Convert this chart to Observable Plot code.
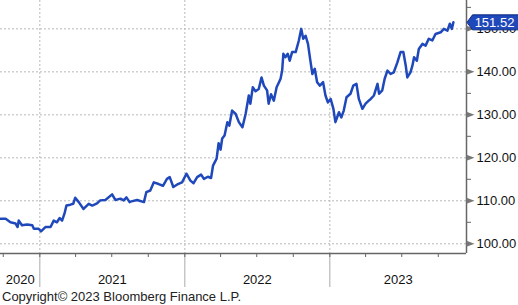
<!DOCTYPE html>
<html>
<head>
<meta charset="utf-8">
<script src="https://cdn.jsdelivr.net/npm/d3@7"></script>
<script src="https://cdn.jsdelivr.net/npm/@observablehq/plot@0.6"></script>
<style>
  html, body { margin: 0; padding: 0; background: #fff; }
  #wrap { position: relative; width: 518px; height: 305px; overflow: hidden; }
  #copy { position: absolute; left: 2px; top: 289px; font: 13px "Liberation Sans", Arial, sans-serif; line-height: 15px; color: #222; white-space: nowrap; }
</style>
</head>
<body>
<div id="wrap"><div id="chart"></div><div id="copy">Copyright© 2023 Bloomberg Finance L.P.</div></div>
<script>
const dates = [
"2020-09-24","2020-10-07","2020-10-19","2020-11-01","2020-11-06","2020-11-09","2020-11-17","2020-11-30","2020-12-13","2020-12-17","2020-12-29",
"2021-01-04","2021-01-15","2021-01-28","2021-02-05","2021-02-13","2021-02-20","2021-02-26","2021-03-04","2021-03-09","2021-03-19","2021-03-26","2021-03-31",
"2021-04-09","2021-04-21","2021-05-04","2021-05-13","2021-05-25","2021-06-02","2021-06-15","2021-07-02","2021-07-10","2021-07-23","2021-07-31","2021-08-07",
"2021-08-15","2021-08-17","2021-09-03","2021-09-20","2021-09-26","2021-10-06","2021-10-15","2021-10-27","2021-11-07","2021-11-17","2021-11-24","2021-12-03",
"2021-12-13","2021-12-25","2022-01-05","2022-01-15","2022-01-23","2022-02-01","2022-02-11","2022-02-18","2022-02-28","2022-03-08","2022-03-13","2022-03-22",
"2022-03-27","2022-04-01","2022-04-05","2022-04-11","2022-04-18","2022-04-23","2022-04-30","2022-05-09","2022-05-17","2022-05-26","2022-06-03","2022-06-11",
"2022-06-15","2022-06-21","2022-06-28","2022-07-06","2022-07-13","2022-07-19","2022-07-27","2022-07-31","2022-08-06","2022-08-13","2022-08-20","2022-08-26",
"2022-08-30","2022-09-03","2022-09-06","2022-09-11","2022-09-17","2022-09-22","2022-09-28","2022-10-07","2022-10-15","2022-10-21","2022-10-26","2022-11-01",
"2022-11-07","2022-11-13","2022-11-18","2022-11-24","2022-11-30","2022-12-07","2022-12-15","2022-12-21","2022-12-27","2023-01-03","2023-01-10","2023-01-15",
"2023-01-24","2023-01-30","2023-02-05","2023-02-12","2023-02-22","2023-03-01","2023-03-09","2023-03-15","2023-03-24","2023-04-01","2023-04-09","2023-04-14",
"2023-04-22","2023-05-01","2023-05-05","2023-05-13","2023-05-19","2023-05-26","2023-06-03","2023-06-11","2023-06-20","2023-06-28","2023-07-05","2023-07-11",
"2023-07-15","2023-07-23","2023-07-28","2023-08-01","2023-08-08","2023-08-13","2023-08-22","2023-08-30","2023-09-07","2023-09-16","2023-09-24","2023-10-07",
"2023-10-15","2023-10-24","2023-10-30","2023-11-04","2023-11-08"
];
const values = [
105.8,105.8,105.0,104.7,103.9,105.4,104.3,104.5,104.3,103.5,103.5,
102.9,103.9,103.9,105.4,105.0,106.0,105.4,107.0,108.9,109.1,109.3,110.7,
109.7,108.1,109.3,108.9,109.4,110.1,110.2,111.5,110.2,110.5,110.1,110.8,
109.7,109.8,110.2,109.7,112.0,112.4,114.3,113.9,113.5,115.1,115.5,113.2,
113.8,114.3,116.3,114.7,114.1,115.5,116.1,115.1,115.6,115.3,118.2,119.8,
123.4,121.9,124.5,125.2,128.3,127.5,131.0,130.2,128.3,127.1,130.2,134.5,
132.6,136.4,135.5,136.0,138.7,136.8,135.7,132.6,134.8,133.3,136.4,137.6,
138.4,140.3,144.2,143.4,144.2,142.6,144.6,144.6,147.3,150.0,147.7,148.4,
146.5,142.6,139.5,140.7,137.6,136.8,137.6,134.5,132.9,133.7,131.4,128.3,
130.6,129.4,131.0,134.1,134.9,136.8,137.2,133.7,131.4,132.6,133.3,133.7,
134.5,137.2,134.9,135.7,138.4,140.3,139.5,139.9,142.2,144.6,144.6,141.5,
138.7,139.9,141.5,143.4,142.6,145.3,146.5,146.1,147.7,147.3,148.8,149.2,
150.0,149.6,151.2,150.0,151.52
];
const yearBounds = ["2021-01-01","2022-01-01","2023-01-01"];
const yearLabels = ["2020","2021","2022","2023"];
const yMajor = [100,110,120,130,140,150];
const yMinor = [105,115,125,135,145,155];
const lastLabel = "151.52";

const parse = d3.utcParse("%Y-%m-%d");
const data = dates.map((d,i) => ({date: parse(d), value: values[i]}));
const xDomain = [parse("2020-09-24"), parse("2023-12-11")];
const yDomain = [97.74, 156.6];
const bounds = yearBounds.map(parse);

// year label positions: centre of each year's visible part
const labelData = yearLabels.map(y => {
  const a = Math.max(+parse(y + "-01-01"), +xDomain[0]);
  const b = Math.min(+parse((+y + 1) + "-01-01"), +xDomain[1]);
  return {date: new Date((a + b) / 2), label: y};
});
const quarterTicks = d3.utcMonth.every(3).range(xDomain[0], xDomain[1]);
const last = data[data.length - 1];

const arrow = {draw(ctx) { ctx.moveTo(0,-3); ctx.lineTo(8,0); ctx.lineTo(0,3); ctx.closePath(); }};
const tag = {draw(ctx) { ctx.moveTo(0.5,0); ctx.lineTo(6,-7.5); ctx.lineTo(60,-7.5); ctx.lineTo(60,7.5); ctx.lineTo(6,7.5); ctx.closePath(); }};

const blue = "#1f48bb";
const grid = "#b8b8b8";

const chart = Plot.plot({
  width: 518,
  height: 288,
  marginLeft: 0,
  marginTop: 0,
  marginRight: 52,
  marginBottom: 35,
  style: {fontFamily: '"Liberation Sans", Arial, sans-serif', fontSize: "13px", background: "#fff", overflow: "visible"},
  x: {type: "utc", domain: xDomain, axis: null},
  y: {domain: yDomain, axis: null},
  marks: [
    Plot.ruleY(yMajor, {stroke: grid, strokeWidth: 1, strokeDasharray: "2,2"}),
    Plot.ruleX(bounds, {stroke: grid, strokeWidth: 1, strokeDasharray: "2,2"}),
    Plot.axisX({ticks: bounds, tickSize: 34, tickFormat: () => "", stroke: "#aaa", strokeWidth: 1, label: null}),
    Plot.axisX({ticks: quarterTicks, tickSize: 4, tickFormat: () => "", stroke: "#666", strokeWidth: 1, label: null}),
    Plot.text(labelData, {x: "date", text: "label", frameAnchor: "bottom", dy: 26, textAnchor: "middle", lineAnchor: "middle", fill: "#111", fontSize: 13}),
    Plot.line(data, {x: "date", y: "value", stroke: blue, strokeWidth: 2.5, strokeLinejoin: "round"}),
    Plot.ruleY([yDomain[0]], {stroke: "#666", strokeWidth: 1.5}),
    Plot.ruleX([xDomain[1]], {stroke: "#666", strokeWidth: 1.5}),
    Plot.axisY({anchor: "right", ticks: yMinor, tickSize: 4, tickFormat: () => "", stroke: "#666", label: null}),
    Plot.dot(yMajor, {y: d => d, frameAnchor: "right", symbol: arrow, fill: "#777", stroke: "none"}),
    Plot.axisY({anchor: "right", ticks: yMajor, tickSize: 0, tickPadding: 10, tickFormat: d => d.toFixed(2), fill: "#111", fontSize: 13, label: null}),
    Plot.dot([last], {y: "value", frameAnchor: "right", symbol: tag, fill: "#1f48bb", stroke: "#0d2a80", strokeWidth: 1}),
    Plot.text([last], {y: "value", text: () => lastLabel, frameAnchor: "right", dx: 28, textAnchor: "middle", lineAnchor: "middle", fill: "#fff", fontSize: 13})
  ]
});
document.getElementById("chart").appendChild(chart);
</script>
</body>
</html>
